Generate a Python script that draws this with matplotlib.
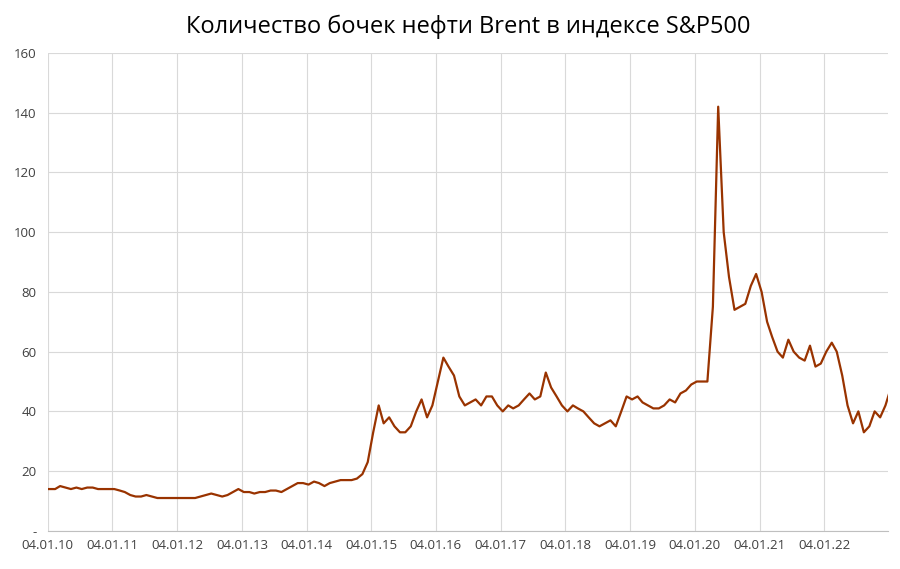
import matplotlib
matplotlib.use("Agg")
import matplotlib.pyplot as plt
import pandas as pd

years = list(range(2010, 2023))
# monthly readings of barrels of Brent per S&P500 unit
values = [
    14, 15, 14.5, 14, 14.5, 14, 14.5, 14.5, 14, 14, 14, 14,
    13.5, 13, 12, 11.5, 11.5, 12, 11.5, 11, 11, 11, 11, 11,
    11, 11, 11, 11.5, 12, 12.5, 12, 11.5, 12, 13, 14, 13,
    13, 12.5, 13, 13, 13.5, 13.5, 13, 14, 15, 16, 16, 15.5,
    16.5, 16, 15, 16, 16.5, 17, 17, 17, 17.5, 19, 23, 33,
    42, 36, 38, 35, 33, 33, 35, 40, 44, 38, 42, 50,
    58, 55, 52, 45, 42, 43, 44, 42, 45, 45, 42, 40,
    42, 41, 42, 44, 46, 44, 45, 53, 48, 45, 42, 40,
    42, 41, 40, 38, 36, 35, 36, 37, 35, 40, 45, 44,
    45, 43, 42, 41, 41, 42, 44, 43, 46, 47, 49, 50,
    50, 50, 75, 142, 100, 85, 74, 75, 76, 82, 86, 80,
    70, 65, 60, 58, 64, 60, 58, 57, 62, 55, 56, 60,
    63, 60, 52, 42, 36, 40, 33, 35, 40, 38, 42, 48,
]
dates = pd.date_range("2010-01-04", periods=len(values), freq="MS") + pd.Timedelta(days=14)
dates = dates.insert(0, pd.Timestamp("2010-01-04"))
values = [14] + values

tick_dates = [pd.Timestamp(f"{y}-01-04") for y in years]
tick_labels = [d.strftime("%d.%m.%y") for d in tick_dates]
y_ticks = list(range(0, 161, 20))
y_labels = ["-"] + [str(v) for v in y_ticks[1:]]

plt.rcParams["font.family"] = ["Open Sans", "DejaVu Sans"]
fig, ax = plt.subplots(figsize=(9, 5.69), dpi=100)
fig.subplots_adjust(left=0.053, right=0.987, top=0.907, bottom=0.067)

ax.plot(dates, values, color="#993300", linewidth=1.6)

ax.set_title("Количество бочек нефти Brent в индексе S&P500", fontsize=17, pad=14)
ax.set_xticks(tick_dates)
ax.set_xticklabels(tick_labels, fontsize=9.5, color="#404040")
ax.set_yticks(y_ticks)
ax.set_yticklabels(y_labels, fontsize=9.5, color="#404040")
ax.set_ylim(0, 160)
ax.set_xlim(pd.Timestamp("2010-01-04"), pd.Timestamp("2022-12-31"))
ax.grid(True, color="#d9d9d9", linewidth=0.8)
ax.tick_params(length=0)
ax.tick_params(axis="x", pad=6)
ax.tick_params(axis="y", pad=8)
for s in ["top", "right", "left"]:
    ax.spines[s].set_visible(False)
ax.spines["bottom"].set_color("#bfbfbf")

fig.savefig("out.png")
